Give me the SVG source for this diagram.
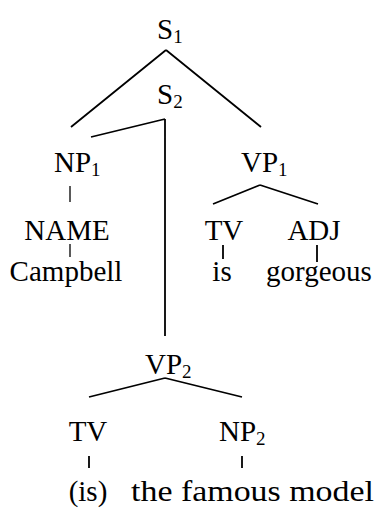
<svg xmlns="http://www.w3.org/2000/svg" width="384" height="511" viewBox="0 0 384 511">
  <style>
    text { font-family: "Liberation Serif", "Times New Roman", serif; font-size: 29px; fill: #000; }
    .c { text-anchor: middle; }
    .sub { font-size: 19px; }
    .edge { stroke: #000; stroke-width: 1.8; fill: none; stroke-linecap: butt; }
    .thin { stroke-width: 1.3; }
  </style>
  <rect width="384" height="511" fill="#fff"/>

  <g id="connectors">
    <path class="edge" d="M166,50 L71,127 M166,50 L261,127"/>
    <path class="edge" d="M165,119 L91,137 M165,119 L165,336"/>
    <path class="edge thin" d="M70,186 L70,202"/>
    <path class="edge thin" d="M70,244 L70,257"/>
    <path class="edge" d="M260,185 L213,204 M260,185 L318,204"/>
    <path class="edge" d="M223,245 L223,259"/>
    <path class="edge" d="M317,245 L317,262"/>
    <path class="edge" d="M165,378 L89,397 M165,378 L242,397"/>
    <path class="edge" d="M89,456 L89,468"/>
    <path class="edge" d="M242,456 L242,468"/>
  </g>

  <g id="S1"><text x="157" y="39">S<tspan class="sub" dy="4">1</tspan></text></g>
  <g id="S2"><text x="157" y="104">S<tspan class="sub" dy="4">2</tspan></text></g>
  <g id="NP1"><text x="54" y="172">NP<tspan class="sub" dy="4">1</tspan></text></g>
  <g id="VP1"><text x="241" y="172">VP<tspan class="sub" dy="4">1</tspan></text></g>
  <g id="NAME"><text class="c" x="67" y="240">NAME</text></g>
  <g id="TV1"><text class="c" x="224" y="240">TV</text></g>
  <g id="ADJ"><text class="c" x="314" y="240">ADJ</text></g>
  <g id="Campbell"><text class="c" x="66" y="281">Campbell</text></g>
  <g id="is"><text class="c" x="222" y="281">is</text></g>
  <g id="gorgeous"><text class="c" x="319" y="281">gorgeous</text></g>
  <g id="VP2"><text x="145" y="374">VP<tspan class="sub" dy="4">2</tspan></text></g>
  <g id="TV2"><text class="c" x="88" y="441">TV</text></g>
  <g id="NP2"><text x="219" y="441">NP<tspan class="sub" dy="4">2</tspan></text></g>
  <g id="is2"><text class="c" x="88" y="501">(is)</text></g>
  <g id="model"><text x="131" y="501" textLength="243" lengthAdjust="spacingAndGlyphs">the famous model</text></g>
</svg>
